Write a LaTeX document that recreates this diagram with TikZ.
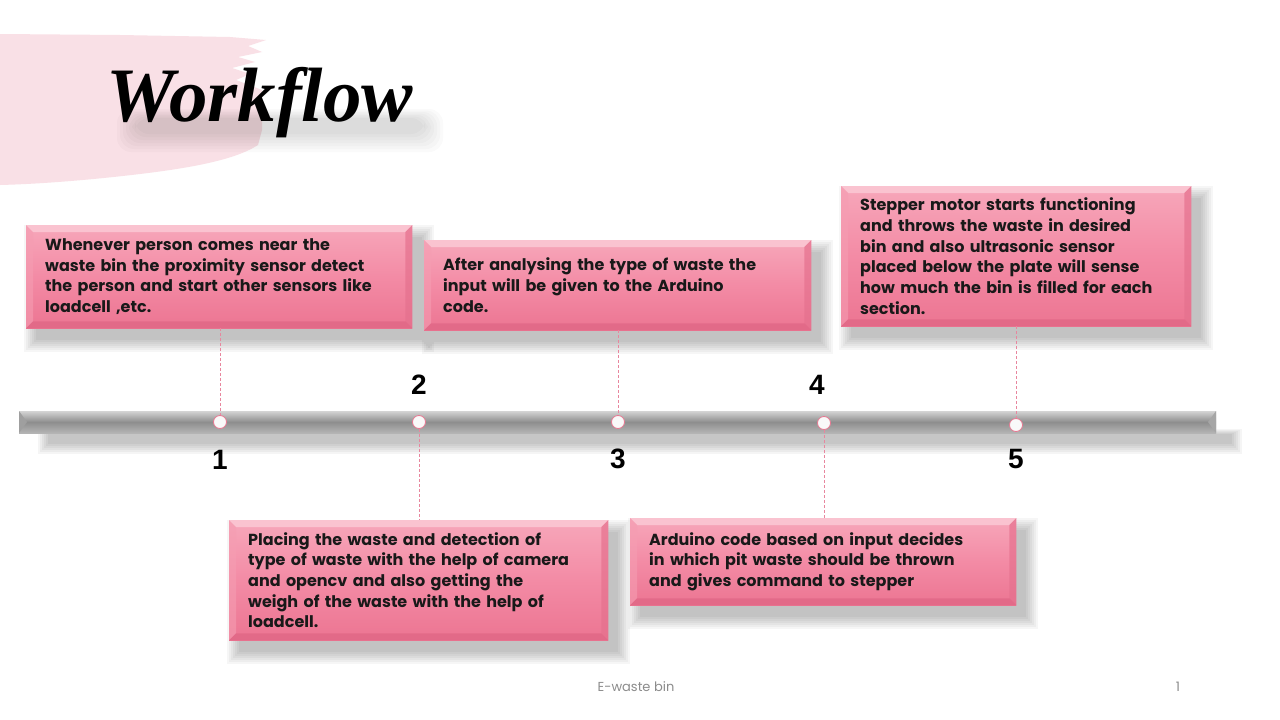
\documentclass[tikz,border=0pt]{standalone}
\usepackage{fontspec}
\setmainfont{Poppins}
\newfontfamily\numfont{Liberation Sans}
\newfontfamily\titlefont{Liberation Serif}
\usetikzlibrary{calc}
\definecolor{brush}{HTML}{F9E0E6}
\definecolor{pktop}{HTML}{F7A7BA}
\definecolor{pkmid}{HTML}{F38BA5}
\definecolor{pkbot}{HTML}{EC7592}
\definecolor{bevtop}{HTML}{FAC3D0}
\definecolor{bevleft}{HTML}{F59DB2}
\definecolor{bevright}{HTML}{E5718E}
\definecolor{bevbot}{HTML}{DE6584}
\definecolor{dashpink}{HTML}{E8869E}
\definecolor{ringpink}{HTML}{E87892}
\definecolor{bartop}{HTML}{D4D4D4}
\definecolor{barmid}{HTML}{8E8E8E}
\definecolor{barbot}{HTML}{B4B4B4}
\definecolor{footgray}{HTML}{8C8C8C}
\tikzset{
  card/.style={anchor=north west, inner sep=0pt, top color=pktop, bottom color=pkbot, middle color=pkmid},
  cardtext/.style={inner sep=0pt, align=left, font=\bfseries\fontsize{16}{20.7}\selectfont, text=black!90},
  dot/.style={circle, minimum size=13pt, inner sep=0pt, fill=white!95!gray, draw=ringpink, line width=0.8pt},
  conn/.style={draw=dashpink, dashed, line width=0.6pt, dash pattern=on 3pt off 2pt},
  num/.style={font=\numfont\bfseries\fontsize{28}{30}\selectfont, text=black},
}
\newcommand{\wcard}[6]{% name, left, top, width, height, text
  \foreach \s in {0,2,...,12}{
    \fill[black, opacity=0.035] (#2+10-\s,#3+12-\s) rectangle (#2+#4+10+\s,#3+#5+12+\s);
  }
  \node[card, minimum width=#4pt, minimum height=#5pt] (#1) at (#2,#3) {};
  \fill[bevtop] (#1.north west) -- (#1.north east) -- ($(#1.north east)+(-7,7)$) -- ($(#1.north west)+(7,7)$) -- cycle;
  \fill[bevleft,opacity=0.6] (#1.north west) -- ($(#1.north west)+(7,7)$) -- ($(#1.south west)+(7,-7)$) -- (#1.south west) -- cycle;
  \fill[bevright,opacity=0.7] (#1.north east) -- ($(#1.north east)+(-7,7)$) -- ($(#1.south east)+(-7,-7)$) -- (#1.south east) -- cycle;
  \fill[bevbot,opacity=0.7] (#1.south west) -- ($(#1.south west)+(7,-7)$) -- ($(#1.south east)+(-7,-7)$) -- (#1.south east) -- cycle;
  \node[cardtext, text width=#4pt-38pt] (#1t) at (#1.center) {#6};
}
\begin{document}
\begin{tikzpicture}[x=1pt,y=-1pt]
\useasboundingbox[fill=white] (0,0) rectangle (1280,720);
% brush stroke
\fill[brush] (0,34) -- (120,35) -- (230,37) -- (266,40) -- (248,46) -- (262,52) -- (238,57) -- (255,62) -- (232,68) -- (250,74) -- (236,80)
  -- (262,90) -- (262,130) -- (258,145) .. controls (235,160) and (190,168) .. (140,174) .. controls (90,180) and (40,184) .. (0,185) -- cycle;
% title shadow (soft)
\foreach \s in {0,3,...,18}{
  \fill[black, opacity=0.02, rounded corners=14pt] (135-\s,118-\s/2) rectangle (425+\s,134+\s);
}
\node[anchor=west, font=\titlefont\bfseries\itshape\fontsize{77}{80}\selectfont, text=black] (title) at (103,103) {Workflow};
% timeline bar shadow
\foreach \s in {0,2,...,10}{
  \fill[black, opacity=0.04] (48-\s,434-\s/2) rectangle (1232+\s,444+\s);
}
\shade[top color=bartop, bottom color=barbot, middle color=barmid] (19,411) rectangle (1216,433);
\fill[gray!75] (19,411) -- (27,422) -- (19,433) -- cycle;
\fill[gray!70] (1216,411) -- (1208,422) -- (1216,433) -- cycle;
% cards
\wcard{b1}{26}{225}{386}{103}{Whenever person comes near the\\waste bin the proximity sensor detect\\the person and start other sensors like\\loadcell ,etc.}
\wcard{b2}{229}{520}{379}{120}{Placing the waste and detection of\\type of waste with the help of camera\\and opencv and also getting the\\weigh of the waste with the help of\\loadcell.}
\wcard{b3}{424}{240}{387}{90}{After analysing the type of waste the\\input will be given to the Arduino\\code.}
\wcard{b4}{630}{518}{386}{87}{Arduino code based on input decides\\in which pit waste should be thrown\\and gives command to stepper}
\wcard{b5}{841}{186}{350}{140}{Stepper motor starts functioning\\and throws the waste in desired\\bin and also ultrasonic sensor\\placed below the plate will sense\\how much the bin is filled for each\\section.}
% dots
\node[dot] (c1) at (220,422) {};
\node[dot] (c2) at (419,422) {};
\node[dot] (c3) at (618,422) {};
\node[dot] (c4) at (824,423) {};
\node[dot] (c5) at (1016,425) {};
% connectors
\draw[conn] (c1 |- b1.south) -- (c1.north);
\draw[conn] (c2.south) -- (c2 |- b2.north);
\draw[conn] (c3 |- b3.south) -- (c3.north);
\draw[conn] (c4.south) -- (c4 |- b4.north);
\draw[conn] (c5 |- b5.south) -- (c5.north);
% numbers
\node[num] (n1) at (220,460) {1};
\node[num] (n2) at (419,385) {2};
\node[num] (n3) at (618,459) {3};
\node[num] (n4) at (817,385) {4};
\node[num] (n5) at (1016,459) {5};
% footer
\node[font=\fontsize{13}{15}\selectfont, text=footgray] (foot) at (636,687) {E-waste bin};
\node[font=\fontsize{13}{15}\selectfont, text=footgray] (page) at (1178,687) {1};
\end{tikzpicture}
\end{document}
